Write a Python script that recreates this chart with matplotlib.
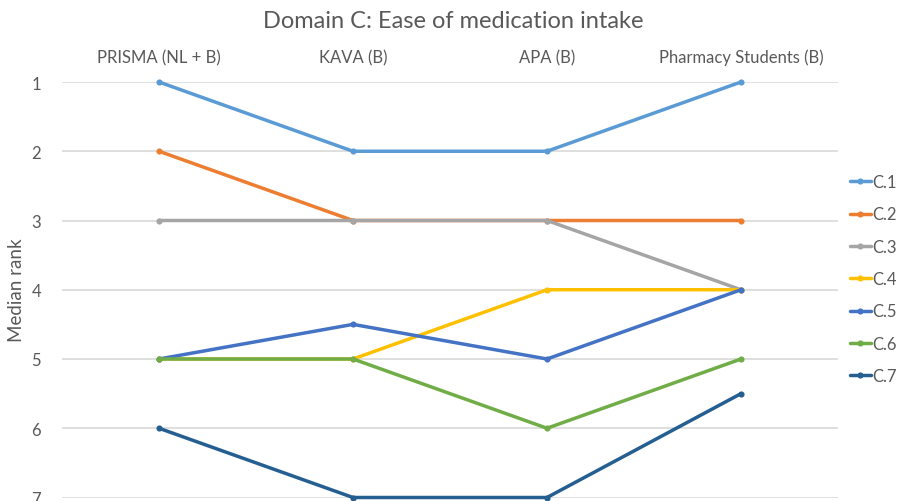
import matplotlib
matplotlib.use("Agg")
import matplotlib.pyplot as plt

plt.rcParams['font.family'] = ['Lato', 'DejaVu Sans']

title = "Domain C: Ease of medication intake"
categories = ["PRISMA (NL + B)", "KAVA (B)", "APA (B)", "Pharmacy Students (B)"]
series_names = ["C.1", "C.2", "C.3", "C.4", "C.5", "C.6", "C.7"]
c1 = [1, 2, 2, 1]
c2 = [2, 3, 3, 3]
c3 = [3, 3, 3, 4]
c4 = [5, 5, 4, 4]
c5 = [5, 4.5, 5, 4]
c6 = [5, 5, 6, 5]
c7 = [6, 7, 7, 5.5]
values = [c1, c2, c3, c4, c5, c6, c7]
colors = ["#5B9BD5", "#ED7D31", "#A5A5A5", "#FFC000", "#4472C4", "#70AD47", "#255E91"]
yticks = [1, 2, 3, 4, 5, 6, 7]

fig = plt.figure(figsize=(9.06, 5.02), dpi=100)
ax = fig.add_axes([62/906, (502-498.5)/502, (838-62)/906, (498.5-83)/502])

x = list(range(len(categories)))
for name, vals, col in zip(series_names, values, colors):
    ax.plot(x, vals, color=col, lw=2.5, marker='o', markersize=3.4, label=name,
            solid_capstyle='round', zorder=3, clip_on=False)

ax.set_xlim(-0.5, len(categories) - 0.5)
ax.set_ylim(7, 1)
ax.set_yticks(yticks)
ax.set_yticklabels([str(v) for v in yticks])
ax.set_xticks(x)
ax.set_xticklabels(categories)
ax.xaxis.tick_top()
ax.tick_params(axis='x', length=0, pad=12, labelsize=12, colors='#595959')
ax.tick_params(axis='y', length=0, pad=15, labelsize=12, colors='#595959')
ax.grid(axis='y', color='#D9D9D9', lw=1.2, zorder=0)
for s in ax.spines.values():
    s.set_visible(False)

fig.text(17/906, (502-290)/502, "Median rank", rotation=90, ha='center', va='center',
         fontsize=13.5, color='#595959')
fig.text(453/906, (502-22)/502, title, ha='center', va='center', fontsize=17, color='#595959')

leg = ax.legend(loc='center left', bbox_to_anchor=(845/906, (502-280)/502),
                bbox_transform=fig.transFigure, frameon=False, fontsize=12,
                handlelength=1.25, handletextpad=0.1, labelspacing=0.98, borderaxespad=0,
                borderpad=0.3)
for t in leg.get_texts():
    t.set_color('#595959')

fig.savefig("out.png", dpi=100)
